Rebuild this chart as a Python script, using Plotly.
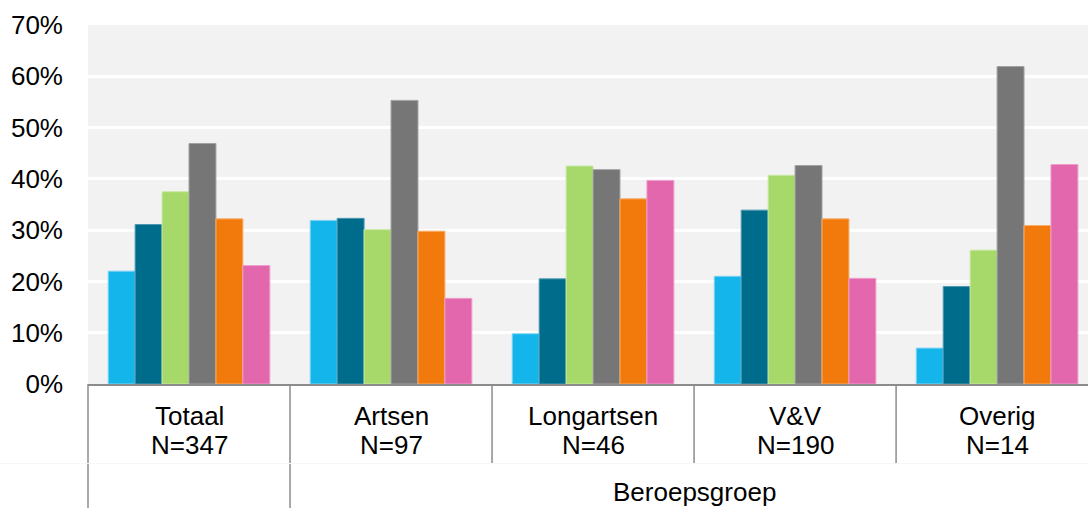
import plotly.graph_objects as go

# Categories (inner level) and their group sizes
groups = ["Totaal", "Artsen", "Longartsen", "V&V", "Overig"]
group_n = ["N=347", "N=97", "N=46", "N=190", "N=14"]
outer_label = "Beroepsgroep"

# Percentages per series, one value per category
serie_1 = [22.0, 31.9, 9.8, 21.0, 7.0]
serie_2 = [31.1, 32.3, 20.5, 33.9, 19.0]
serie_3 = [37.5, 30.1, 42.5, 40.7, 26.1]
serie_4 = [46.9, 55.3, 41.8, 42.6, 61.9]
serie_5 = [32.2, 29.8, 36.1, 32.2, 30.9]
serie_6 = [23.1, 16.7, 39.7, 20.6, 42.8]

series = [serie_1, serie_2, serie_3, serie_4, serie_5, serie_6]
colors = ["#14b5ea", "#006c8c", "#a7d96a", "#767676", "#f2790b", "#e267ac"]
edges = ["#7fd4f3", "#4d98b0", "#c9e8a5", "#a2a2a2", "#f7ae6a", "#ee9fcb"]

y_ticks = [0, 10, 20, 30, 40, 50, 60, 70]
y_tick_text = [f"{v}%" for v in y_ticks]

FONT = "Liberation Sans, Arial, sans-serif"
FS = 26
W, H = 1088, 508
M_L, M_R, M_T, M_B = 88, 0, 25, 124
plot_h = H - M_T - M_B

# the category axis runs slightly past the right edge of the page
X_MIN, X_MAX = -0.5, 4.45
x_span = X_MAX - X_MIN

fig = go.Figure()
for i, vals in enumerate(series):
    fig.add_trace(go.Bar(
        x=groups, y=vals, name=f"serie {i + 1}",
        marker=dict(color=colors[i], line=dict(color=edges[i], width=1)),
        showlegend=False,
    ))


def py(pixel_y):
    """Convert a pixel row of the page to paper y."""
    return (H - M_B - pixel_y) / plot_h


def px(data_x):
    """Convert a category-axis position to paper x."""
    return (data_x - X_MIN) / x_span


axis_grey = "#8c8c8c"
shapes = []
n = len(groups)
# Vertical dividers below the axis: full height for the outer level boundaries,
# shorter for the boundaries inside the "Beroepsgroep" span
for b in range(n):
    bottom = py(H) if b in (0, 1) else py(463)
    xb = px(b - 0.5)
    shapes.append(dict(type="line", xref="paper", yref="paper",
                       x0=xb, x1=xb, y0=0, y1=bottom,
                       line=dict(color=axis_grey, width=1.5)))
# faint rule under the inner label row
shapes.append(dict(type="line", xref="paper", yref="paper",
                   x0=-M_L / (W - M_L - M_R), x1=1, y0=py(463.5), y1=py(463.5),
                   line=dict(color="#f7f7f7", width=1)))

annotations = []
for g, nlab in zip(groups, group_n):
    annotations.append(dict(x=g, xref="x", y=py(416), yref="paper", text=g,
                            showarrow=False, yanchor="middle", xanchor="center",
                            font=dict(family=FONT, size=FS, color="#000")))
    annotations.append(dict(x=g, xref="x", y=py(445), yref="paper", text=nlab,
                            showarrow=False, yanchor="middle", xanchor="center",
                            font=dict(family=FONT, size=FS, color="#000")))
annotations.append(dict(x=px((n - 1 + 0.5 + 0.5) / 2), xref="paper", y=py(492),
                        yref="paper", text=outer_label, showarrow=False,
                        yanchor="middle", xanchor="center",
                        font=dict(family=FONT, size=FS, color="#000")))

fig.update_layout(
    width=W, height=H,
    margin=dict(l=M_L, r=M_R, t=M_T, b=M_B, pad=0),
    paper_bgcolor="white",
    plot_bgcolor="#f2f2f2",
    barmode="group",
    bargap=0.2,
    bargroupgap=0,
    font=dict(family=FONT, size=FS, color="#000"),
    xaxis=dict(range=[X_MIN, X_MAX], showticklabels=False, showgrid=False,
               zeroline=False, showline=True, linecolor=axis_grey,
               linewidth=1.5, ticks=""),
    yaxis=dict(range=[0, 70], tickvals=y_ticks, ticktext=y_tick_text,
               showgrid=True, gridcolor="white", gridwidth=2.5,
               zeroline=False, showline=False, ticks="",
               ticklabelstandoff=24,
               tickfont=dict(family=FONT, size=FS, color="#000")),
    shapes=shapes,
    annotations=annotations,
)

fig.write_html("out.html")
